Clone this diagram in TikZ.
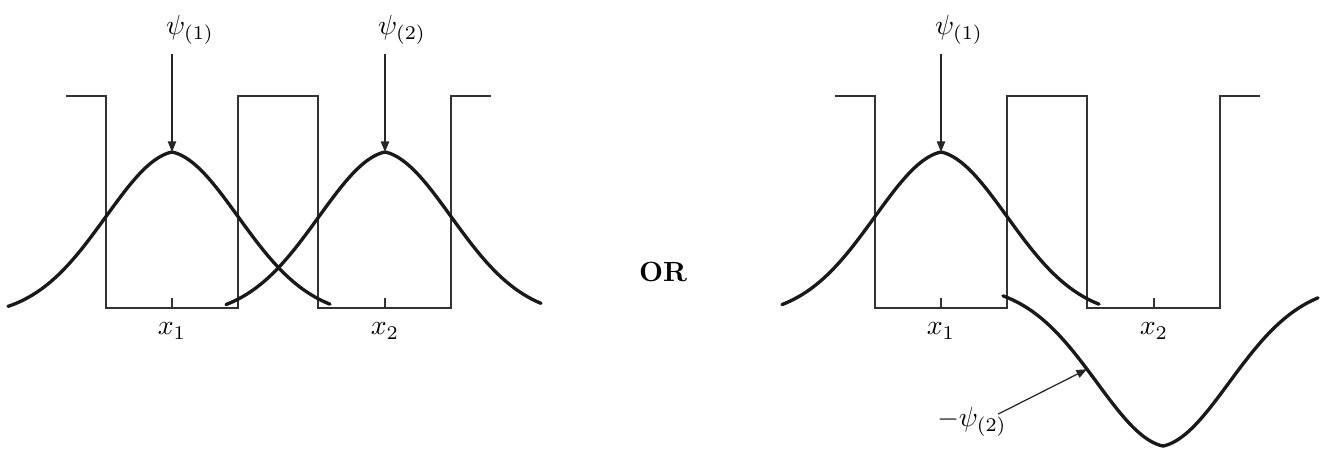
\documentclass[tikz,border=0pt]{standalone}
\usepackage{amsmath}
\usepackage{tikz}
\usetikzlibrary{arrows.meta, positioning, calc}

\begin{document}
\begin{tikzpicture}[
  x=0.36pt, y=-0.36pt,
  declare function={gss(\t)=exp(-(((abs(\t)+7)/100)^2-0.0049)/1.064);},
  wall/.style={line width=0.55pt, black!80},
  wave/.style={line width=1.2pt, black!90, line cap=round},
  tick/.style={line width=0.5pt, black!80},
  arr/.style={-{Triangle[length=3.8pt, width=3pt]}, line width=0.45pt, black!85},
  lbl/.style={inner sep=1pt}
]
\useasboundingbox (0,0) rectangle (1328,448);
%% square wells, both panels
\foreach \ox/\sd in {0/L, 769/R} {
  \begin{scope}[shift={(\ox,0)}]
    \draw[wall] (66,96) -- (106,96) -- (106,308) -- (238,308) -- (238,96)
      -- (318,96) -- (318,308) -- (451,308) -- (451,96) -- (491,96);
    \draw[tick] (172,308) -- (172,298);
    \draw[tick] (385,308) -- (385,298);
    \node (xa_\sd) at (172,331) {$x_1$};
    \node (xb_\sd) at (385,331) {$x_2$};
  \end{scope}
}
%% wave functions
\draw[wave] plot[domain=-164:158, samples=121] ({172+\x}, {317-165*gss(\x)});
\draw[wave] plot[domain=-159:156, samples=121] ({385+\x}, {317-165*gss(\x)});
\draw[wave] plot[domain=-159:158, samples=121] ({941+\x}, {317-165*gss(\x)});
\draw[wave] plot[domain=-160:155, samples=121] ({1163+\x}, {284+162*gss(\x)});
%% points on the curves
\coordinate (pk_1L) at (172,152);
\coordinate (pk_2L) at (385,152);
\coordinate (pk_1R) at (941,152);
\coordinate (on_2R) at (1087,{284+162*gss(-76)});
%% labels
\node (psi_1L) at (190,30) {$\psi_{(1)}$};
\node (psi_2L) at (402,30) {$\psi_{(2)}$};
\node (psi_1R) at (959,30) {$\psi_{(1)}$};
\node (or) at (663,272) {\bfseries OR};
\node[lbl] (psi_2R) at (972,422) {$-\psi_{(2)}$};
%% arrows
\draw[arr] (pk_1L |- psi_1L.south) -- (pk_1L);
\draw[arr] (pk_2L |- psi_2L.south) -- (pk_2L);
\draw[arr] (pk_1R |- psi_1R.south) -- (pk_1R);
\draw[arr] ([shift={(-12,10)}]psi_2R.north east) -- (on_2R);
\end{tikzpicture}
\end{document}
